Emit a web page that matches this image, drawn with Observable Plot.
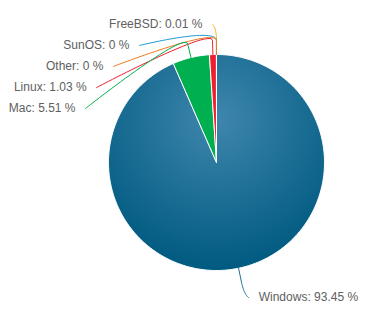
<!DOCTYPE html>
<html><head><meta charset="utf-8">
<script src="https://cdn.jsdelivr.net/npm/d3@7"></script>
<script src="https://cdn.jsdelivr.net/npm/@observablehq/plot@0.6"></script>
<style>html,body{margin:0;padding:0;background:#fff}svg{display:block}</style>
</head><body><div id="chart"></div>
<script>
// ---- data ----
const names  = ["Windows", "Mac", "Linux", "Other", "SunOS", "FreeBSD"];
const shares = [93.45, 5.51, 1.03, 0, 0, 0.01];
const colors = ["#1f6f97", "#00b050", "#ee1f30", "#f07a1a", "#1c9ad6", "#f2b000"];

// ---- layout ----
const W = 380, H = 323, CX = 216, CY = 162, R = 108;
const LABEL_DIST = 30, BREAK_DIST = 14, SLOT = 21, TEXT_PAD = 14, LINE_PAD = 4;

const total = d3.sum(shares);
const cum = Array.from(d3.cumsum(shares));
const slices = names.map((name, i) => {
  const a0 = (cum[i] - shares[i]) / total * 2 * Math.PI;
  const a1 = cum[i] / total * 2 * Math.PI;
  return {name, value: shares[i], color: colors[i], a0, a1, mid: (a0 + a1) / 2, index: i};
});

const toData = (px, py) => [(px - CX) / R, (CY - py) / R];
const polar = (a, rr) => [CX + rr * Math.sin(a), CY - rr * Math.cos(a)];

// slice outlines
const slicePts = [];
for (const s of slices) {
  if (!(s.value > 0)) continue;
  const n = Math.max(2, Math.ceil((s.a1 - s.a0) / (Math.PI / 180)));
  const pts = [[CX, CY]];
  for (let k = 0; k <= n; k++) pts.push(polar(s.a0 + (s.a1 - s.a0) * k / n, R));
  pts.push([CX, CY]);
  const fill = s.index === 0 ? "url(#grad0)" : s.color;
  for (const [px, py] of pts) {
    const [x, y] = toData(px, py);
    slicePts.push({name: s.name, x, y, fill});
  }
}

// label layout (Highcharts-like)
const LR = R + LABEL_DIST;
const labels = [];
for (const s of slices.filter(s => s.mid < Math.PI)) {
  const [x, y] = polar(s.mid, LR);
  labels.push({s, x, y, side: 1});
}
const left = slices.filter(s => s.mid >= Math.PI)
  .sort((a, b) => (b.mid - a.mid) || (b.index - a.index));
let prev = -Infinity;
for (const s of left) {
  const [, ny] = polar(s.mid, LR);
  const y = Math.max(ny, prev + SLOT);
  prev = y;
  const dy = y - CY;
  const x = CX - Math.sqrt(Math.max(0, LR * LR - dy * dy));
  labels.push({s, x, y, side: -1});
}

const textData = labels.map(l => {
  const [x, y] = toData(l.x + l.side * TEXT_PAD, l.y);
  return {x, y, text: `${l.s.name}: ${l.s.value} %`, anchor: l.side > 0 ? "start" : "end"};
});

// soft connectors
const connPts = [];
for (const l of labels) {
  const P0 = [l.x + l.side * LINE_PAD, l.y];
  const B = polar(l.s.mid, R + BREAK_DIST);
  const T = polar(l.s.mid, R);
  const C1 = P0, C2 = [2 * B[0] - T[0], 2 * B[1] - T[1]];
  const steps = 30;
  for (let k = 0; k <= steps; k++) {
    const t = k / steps, u = 1 - t;
    const px = u*u*u*P0[0] + 3*u*u*t*C1[0] + 3*u*t*t*C2[0] + t*t*t*B[0];
    const py = u*u*u*P0[1] + 3*u*u*t*C1[1] + 3*u*t*t*C2[1] + t*t*t*B[1];
    const [x, y] = toData(px, py);
    connPts.push({name: l.s.name, x, y, color: l.s.color});
  }
  const [x, y] = toData(T[0], T[1]);
  connPts.push({name: l.s.name, x, y, color: l.s.color});
}

const font = "'Liberation Sans', Arial, sans-serif";
const chart = Plot.plot({
  width: W, height: H,
  margin: 0,
  style: {background: "#fff", overflow: "visible"},
  x: {domain: [-CX / R, (W - CX) / R], range: [0, W], axis: null},
  y: {domain: [-(H - CY) / R, CY / R], range: [H, 0], axis: null},
  color: {type: "identity"},
  marks: [
    Plot.line(slicePts, {x: "x", y: "y", z: "name", fill: "fill", stroke: "#fff", strokeWidth: 1, strokeLinejoin: "round", curve: "linear"}),
    Plot.line(connPts, {x: "x", y: "y", z: "name", stroke: "color", strokeWidth: 1, curve: "linear"}),
    Plot.text(textData.filter(d => d.anchor === "end"), {x: "x", y: "y", text: "text", textAnchor: "end", fontSize: 12, fontFamily: font, fill: "#606060"}),
    Plot.text(textData.filter(d => d.anchor === "start"), {x: "x", y: "y", text: "text", textAnchor: "start", fontSize: 12, fontFamily: font, fill: "#606060"})
  ]
});

// radial gradient for the dominant slice
const svg = d3.select(chart);
const defs = svg.insert("defs", ":first-child");
const g = defs.append("radialGradient").attr("id", "grad0")
  .attr("cx", 0.5).attr("cy", 0.3).attr("r", 0.7);
g.append("stop").attr("offset", "0%").attr("stop-color", "#3f86ad");
g.append("stop").attr("offset", "100%").attr("stop-color", "#005a80");

document.getElementById("chart").appendChild(chart);
</script>
</body></html>
